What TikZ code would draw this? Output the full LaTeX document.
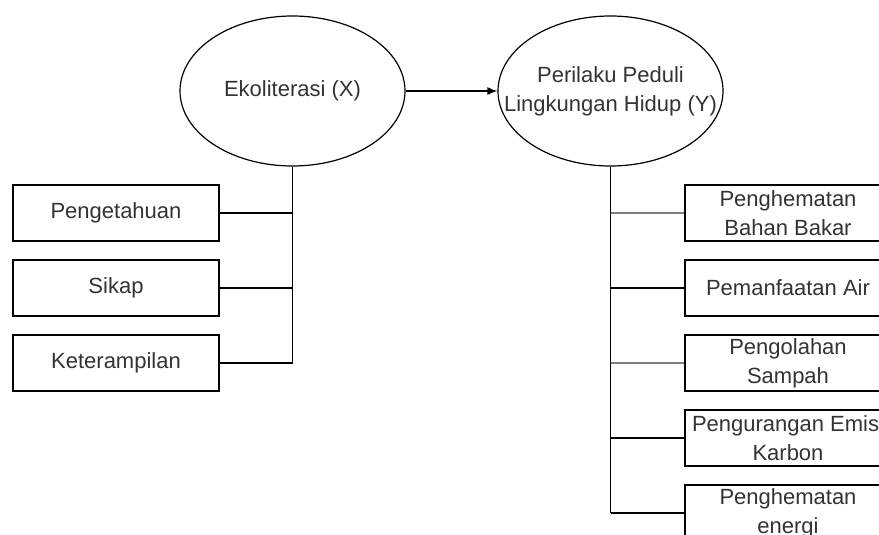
\documentclass[tikz,border=0pt]{standalone}
\usepackage{fontspec}
\setmainfont{Liberation Sans}
\usetikzlibrary{shapes.geometric, arrows.meta}

\begin{document}
\begin{tikzpicture}[x = 1pt, y = -1pt]
\tikzstyle{TextStyle} = [font = \fontsize{22}{29}\selectfont, text = black!80, align = center]
\tikzstyle{EllipseStyle} = [shape = ellipse, draw, line width = 1.2pt, minimum width = 225pt, minimum height = 150pt, inner sep = 0pt]
\tikzstyle{BoxStyle} = [shape = rectangle, draw, line width = 1.2pt, minimum width = 206pt, minimum height = 56pt, inner sep = 0pt, TextStyle]
\tikzstyle{EdgeStyle} = [line width = 1.2pt]
\tikzstyle{GrayEdgeStyle} = [line width = 2.6pt, draw = black!50]
\clip (0, 0) rectangle (879, 535);
\node[EllipseStyle, label = {[TextStyle]center:Ekoliterasi (X)}] (ekoX) at (292.5, 91) {};
\node[EllipseStyle, label = {[TextStyle]center:Perilaku Peduli\\Lingkungan Hidup (Y)}] (perilakuY) at (610.5, 91) {};
\node[BoxStyle] (pengetahuan) at (116, 213) {Pengetahuan};
\node[BoxStyle] (sikap) at (116, 288) {Sikap};
\node[BoxStyle] (keterampilan) at (116, 363) {Keterampilan};
\node[BoxStyle] (bahanBakar) at (788, 213) {Penghematan\\Bahan Bakar};
\node[BoxStyle] (air) at (788, 288) {Pemanfaatan Air};
\node[BoxStyle] (sampah) at (788, 363) {Pengolahan\\Sampah};
\node[BoxStyle] (emisi) at (788, 438) {Pengurangan Emisi\\Karbon};
\node[BoxStyle] (energi) at (788, 513) {Penghematan\\energi};
\coordinate (trunkX) at (ekoX.south |- keterampilan.east);
\coordinate (trunkY) at (perilakuY.south |- energi.west);
\draw[EdgeStyle, -{Latex[length = 10pt, width = 8pt]}] (ekoX.east) -- (perilakuY.west);
\draw[EdgeStyle] (ekoX.south) -- (trunkX);
\draw[EdgeStyle] (pengetahuan.east) -- (pengetahuan.east -| trunkX);
\draw[EdgeStyle] (sikap.east) -- (sikap.east -| trunkX);
\draw[EdgeStyle] (keterampilan.east) -- (trunkX);
\draw[EdgeStyle] (perilakuY.south) -- (trunkY);
\draw[GrayEdgeStyle] (bahanBakar.west -| trunkY) -- (bahanBakar.west);
\draw[EdgeStyle] (air.west -| trunkY) -- (air.west);
\draw[GrayEdgeStyle] (sampah.west -| trunkY) -- (sampah.west);
\draw[EdgeStyle] (emisi.west -| trunkY) -- (emisi.west);
\draw[EdgeStyle] (trunkY) -- (energi.west);
\end{tikzpicture}
\end{document}
